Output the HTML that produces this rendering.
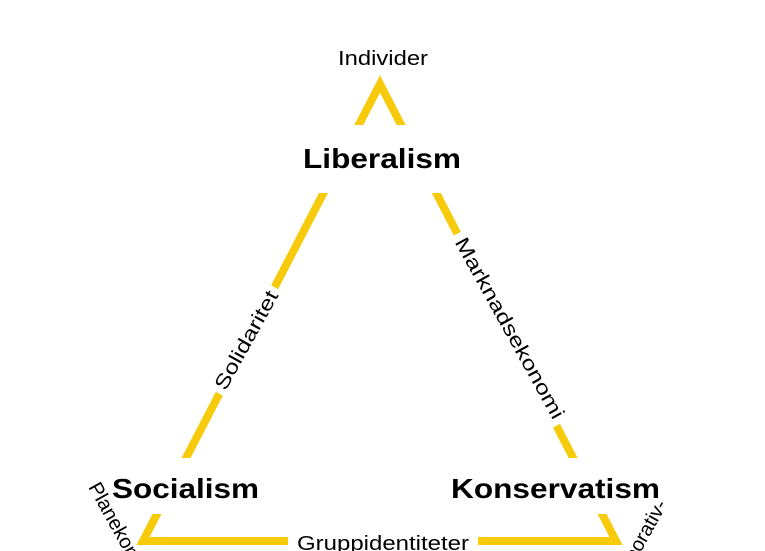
<!DOCTYPE html>
<html><head><meta charset="utf-8"><style>
html,body{margin:0;padding:0;background:#fff;overflow:hidden;}
svg{display:block;font-family:"Liberation Sans",Arial,sans-serif;}
</style></head><body>
<svg width="765" height="551" viewBox="0 0 765 551">
<rect width="765" height="551" fill="#fff"/>
<polygon points="380,84 143,541 616,541" fill="none" stroke="#f7cb0c" stroke-width="8" stroke-linejoin="miter"/>
<rect x="290" y="125" width="190" height="68" fill="#fff"/>
<rect x="90" y="458" width="190" height="56" fill="#fff"/>
<rect x="440" y="458" width="240" height="56" fill="#fff"/>
<rect x="288" y="525" width="190" height="30" fill="#fff"/>
<g transform="translate(246,340) rotate(-61)"><rect x="-60" y="-13" width="120" height="26" fill="#fff"/><text x="0" y="7" font-size="20" text-anchor="middle" textLength="110" lengthAdjust="spacingAndGlyphs">Solidaritet</text></g>
<g transform="translate(510,328) rotate(61)"><rect x="-108" y="-13" width="216" height="26" fill="#fff"/><text x="0" y="7" font-size="20" text-anchor="middle" textLength="204" lengthAdjust="spacingAndGlyphs">Marknadsekonomi</text></g>
<text x="338" y="65" font-size="20" textLength="90" lengthAdjust="spacingAndGlyphs">Individer</text>
<text x="303" y="168" font-size="28" font-weight="bold" textLength="158" lengthAdjust="spacingAndGlyphs">Liberalism</text>
<text x="112" y="498" font-size="28" font-weight="bold" textLength="147" lengthAdjust="spacingAndGlyphs">Socialism</text>
<text x="451" y="498" font-size="28" font-weight="bold" textLength="209" lengthAdjust="spacingAndGlyphs">Konservatism</text>
<text x="297" y="550" font-size="20" textLength="172" lengthAdjust="spacingAndGlyphs">Gruppidentiteter</text>
<g transform="translate(88,487) rotate(61)"><text x="0" y="0" font-size="20">Planekonomi</text></g>
<g transform="translate(620,590) rotate(-61)"><text x="0" y="0" font-size="20">Korporativ-</text></g>
</svg>
</body></html>
